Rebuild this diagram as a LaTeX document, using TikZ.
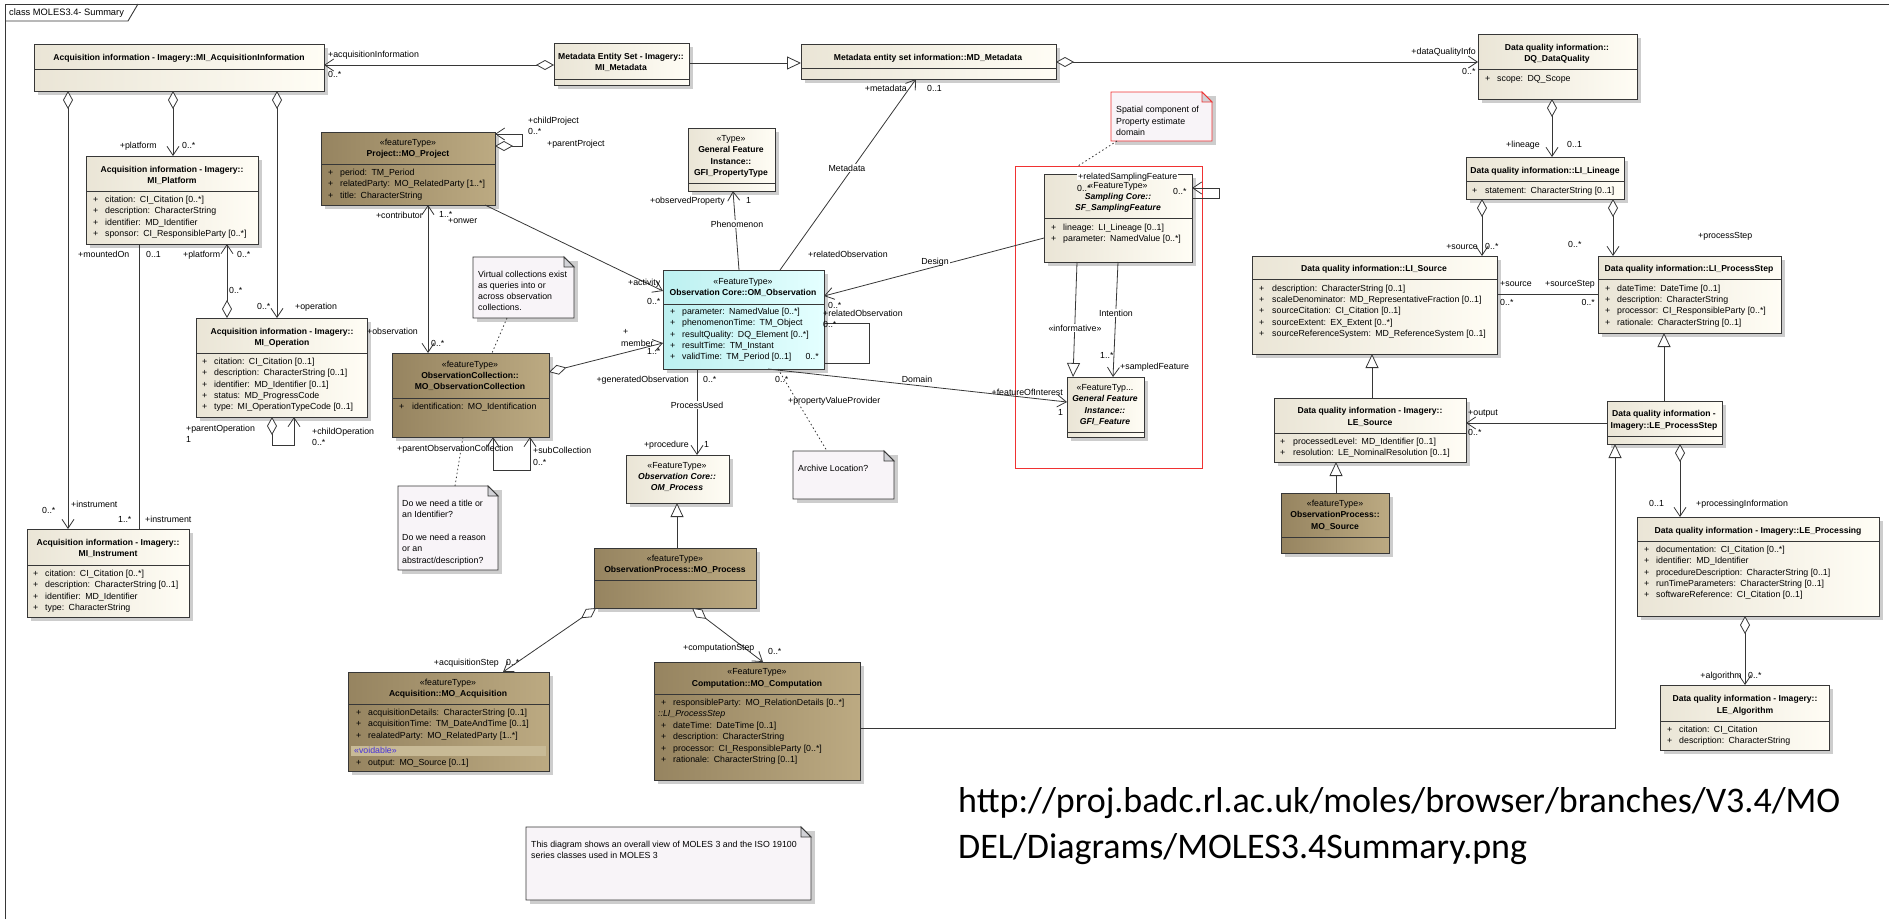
\documentclass[tikz,border=0pt]{standalone}
\usepackage{fontspec}
\setmainfont{Liberation Sans}
\newfontfamily\calib{Carlito}
\usetikzlibrary{arrows.meta,calc}
\definecolor{lnc}{RGB}{55,55,55}
\definecolor{crL}{RGB}{234,229,214}
\definecolor{crR}{RGB}{255,253,245}
\definecolor{brL}{RGB}{150,132,96}
\definecolor{brR}{RGB}{188,170,130}
\definecolor{cyL}{RGB}{188,240,240}
\definecolor{cyR}{RGB}{228,255,255}
\definecolor{notef}{RGB}{248,244,248}
\definecolor{foldc}{RGB}{210,210,215}
\definecolor{shd}{RGB}{205,205,205}
\definecolor{voidc}{RGB}{70,50,220}
\definecolor{voidband}{RGB}{200,186,150}
\definecolor{redc}{RGB}{240,50,50}
\tikzset{
 boxbase/.style={draw=lnc, line width=0.9pt, inner sep=0pt, outer sep=0pt, anchor=north west},
 boxcream/.style={boxbase, left color=crL, right color=crR},
 boxbrown/.style={boxbase, left color=brL, right color=brR},
 boxcyan/.style={boxbase, left color=cyL, right color=cyR},
 txt/.style={font=\fontsize{8.8}{10}\selectfont, inner sep=0pt, text height=6.4pt, text depth=0pt},
 ttl/.style={txt, font=\fontsize{8.6}{10}\selectfont\bfseries},
 itl/.style={txt, font=\fontsize{8.6}{10}\selectfont\bfseries\itshape},
 lbl/.style={txt, anchor=west},
 lble/.style={txt, anchor=east},
 midlbl/.style={txt, fill=white, inner sep=1pt},
 conn/.style={draw=lnc, line width=0.8pt},
 nav/.style={conn, -{Straight Barb[length=9pt,width=12pt]}},
 navb/.style={conn, {Straight Barb[length=9pt,width=12pt]}-{Straight Barb[length=9pt,width=12pt]}},
 gen/.style={conn, -{Triangle[open,length=14pt,width=13pt,fill=white]}},
 agg/.style={conn, {Diamond[open,length=18pt,width=10pt,fill=white]}-{Straight Barb[length=9pt,width=12pt]}},
 dots/.style={draw=lnc, line width=0.8pt, dash pattern=on 1.5pt off 2.5pt},
}
\newcommand\ubox[6]{%
  \fill[shd] ({#3+4},{#4+4}) rectangle ({#5+4},{#6+4});
  \node[#2, minimum width={#5-#3}, minimum height={#6-#4}] (#1) at (#3,#4) {};
}
\newcommand\udiv[2]{\draw[lnc, line width=0.8pt] (#1.west |- 0,#2) -- (#1.east |- 0,#2);}
\newcommand\uattr[5]{%
  \foreach \aitem [count=\ai from 0] in {#5} {
    \node[lbl] at (#1,{#3+\ai*#4}) {+};
    \node[lbl] at (#2,{#3+\ai*#4}) {\aitem};
  }}
\newcommand\unote[6]{%
  \fill[shd] ({#2+4},{#3+4}) rectangle ({#4+4},{#5+4});
  \node[inner sep=0pt, outer sep=0pt, minimum width={#4-#2}, minimum height={#5-#3}, anchor=north west] (#1) at (#2,#3) {};
  \filldraw[fill=notef, draw=#6, line width=0.9pt] (#1.north west) -- ($(#1.north east)+(-10,0)$) -- ($(#1.north east)+(0,10)$) -- (#1.south east) -- (#1.south west) -- cycle;
  \filldraw[fill=foldc, draw=#6, line width=0.9pt] ($(#1.north east)+(-10,0)$) -- ($(#1.north east)+(-10,10)$) -- ($(#1.north east)+(0,10)$) -- cycle;
}
\begin{document}
\begin{tikzpicture}[x=1pt,y=-1pt]
\useasboundingbox (0,0) rectangle (1889,919);
% frame
\draw[lnc, line width=0.9pt] (5,919) -- (5,4) -- (1889,4);
\draw[lnc, line width=0.9pt] (5,21) -- (128,21) -- (138,4);
\node[lbl, font=\fontsize{9.3}{10}\selectfont] (frametitle) at (9,12) {class MOLES3.4- Summary};

% ---------- classes ----------
\ubox{acq}{boxcream}{34}{44}{324}{91}
\udiv{acq}{69}
\node[ttl] at (179,57) {Acquisition information - Imagery::MI\_AcquisitionInformation};

\ubox{mimeta}{boxcream}{554}{43}{689}{85}
\udiv{mimeta}{79}
\node[ttl] at (621,56) {Metadata Entity Set - Imagery::};
\node[ttl] at (621,67) {MI\_Metadata};

\ubox{mdmeta}{boxcream}{801}{44}{1056}{79}
\udiv{mdmeta}{68}
\node[ttl] at (928,57) {Metadata entity set information::MD\_Metadata};

\ubox{dq}{boxcream}{1478}{34}{1637}{99}
\udiv{dq}{69}
\node[ttl] at (1557,47) {Data quality information::};
\node[ttl] at (1557,58) {DQ\_DataQuality};
\uattr{1485}{1497}{78}{11.3}{scope:\enspace DQ\_Scope}

\ubox{lin}{boxcream}{1466}{157}{1624}{199}
\udiv{lin}{181}
\node[ttl] at (1545,170) {Data quality information::LI\_Lineage};
\uattr{1472}{1485}{190}{11.3}{statement:\enspace CharacterString [0..1]}

\ubox{lisrc}{boxcream}{1252}{256}{1497}{354}
\udiv{lisrc}{279}
\node[ttl] at (1374,268) {Data quality information::LI\_Source};
\uattr{1259}{1272}{288}{11.3}{description:\enspace CharacterString [0..1], scaleDenominator:\enspace MD\_RepresentativeFraction [0..1], sourceCitation:\enspace CI\_Citation [0..1], sourceExtent:\enspace EX\_Extent [0..*], sourceReferenceSystem:\enspace MD\_ReferenceSystem [0..1]}

\ubox{lips}{boxcream}{1598}{256}{1781}{333}
\udiv{lips}{279}
\node[ttl] at (1689,268) {Data quality information::LI\_ProcessStep};
\uattr{1605}{1617}{288}{11.3}{dateTime:\enspace DateTime [0..1], description:\enspace CharacterString, processor:\enspace CI\_ResponsibleParty [0..*], rationale:\enspace CharacterString [0..1]}

\ubox{leps}{boxcream}{1607}{401}{1722}{444}
\udiv{leps}{436}
\node[ttl] at (1664,413) {Data quality information -};
\node[ttl] at (1664,425) {Imagery::LE\_ProcessStep};

\ubox{lesrc}{boxcream}{1274}{398}{1466}{462}
\udiv{lesrc}{433}
\node[ttl] at (1370,410) {Data quality information - Imagery::};
\node[ttl] at (1370,422) {LE\_Source};
\uattr{1280}{1293}{441}{11.3}{processedLevel:\enspace MD\_Identifier [0..1], resolution:\enspace LE\_NominalResolution [0..1]}

\ubox{mosrc}{boxbrown}{1281}{493}{1389}{553}
\udiv{mosrc}{537}
\node[txt] at (1335,503) {«featureType»};
\node[ttl] at (1335,514) {ObservationProcess::};
\node[ttl] at (1335,526) {MO\_Source};

\ubox{leproc}{boxcream}{1637}{517}{1879}{616}
\udiv{leproc}{541}
\node[ttl] at (1758,530) {Data quality information - Imagery::LE\_Processing};
\uattr{1644}{1656}{549}{11.4}{documentation:\enspace CI\_Citation [0..*], identifier:\enspace MD\_Identifier, procedureDescription:\enspace CharacterString [0..1], runTimeParameters:\enspace CharacterString [0..1], softwareReference:\enspace CI\_Citation [0..1]}

\ubox{lealg}{boxcream}{1660}{685}{1829}{750}
\udiv{lealg}{721}
\node[ttl] at (1745,698) {Data quality information - Imagery::};
\node[ttl] at (1745,710) {LE\_Algorithm};
\uattr{1667}{1679}{729}{11.4}{citation:\enspace CI\_Citation, description:\enspace CharacterString}

\ubox{plat}{boxcream}{86}{156}{258}{244}
\udiv{plat}{191}
\node[ttl] at (172,169) {Acquisition information - Imagery::};
\node[ttl] at (172,180) {MI\_Platform};
\uattr{93}{105}{199}{11.4}{citation:\enspace CI\_Citation [0..*], description:\enspace CharacterString, identifier:\enspace MD\_Identifier, sponsor:\enspace CI\_ResponsibleParty [0..*]}

\ubox{oper}{boxcream}{196}{318}{367}{417}
\udiv{oper}{353}
\node[ttl] at (282,331) {Acquisition information - Imagery::};
\node[ttl] at (282,342) {MI\_Operation};
\uattr{202}{214}{361}{11.4}{citation:\enspace CI\_Citation [0..1], description:\enspace CharacterString [0..1], identifier:\enspace MD\_Identifier [0..1], status:\enspace MD\_ProgressCode, type:\enspace MI\_OperationTypeCode [0..1]}

\ubox{inst}{boxcream}{27}{529}{189}{617}
\udiv{inst}{565}
\node[ttl] at (108,542) {Acquisition information - Imagery::};
\node[ttl] at (108,553) {MI\_Instrument};
\uattr{33}{45}{573}{11.4}{citation:\enspace CI\_Citation [0..*], description:\enspace CharacterString [0..1], identifier:\enspace MD\_Identifier, type:\enspace CharacterString}

\ubox{proj}{boxbrown}{321}{132}{495}{205}
\udiv{proj}{164}
\node[txt] at (408,142) {«featureType»};
\node[ttl] at (408,153) {Project::MO\_Project};
\uattr{328}{340}{172}{11.4}{period:\enspace TM\_Period, relatedParty:\enspace MO\_RelatedParty [1..*], title:\enspace CharacterString}

\ubox{obscol}{boxbrown}{392}{353}{549}{437}
\udiv{obscol}{398}
\node[txt] at (470,364) {«featureType»};
\node[ttl] at (470,375) {ObservationCollection::};
\node[ttl] at (470,386) {MO\_ObservationCollection};
\uattr{399}{412}{406}{11.3}{identification:\enspace MO\_Identification}

\ubox{obs}{boxcyan}{663}{270}{824}{369}
\udiv{obs}{304}
\node[txt] at (743,281) {«FeatureType»};
\node[ttl] at (743,292) {Observation Core::OM\_Observation};
\uattr{670}{682}{311}{11.4}{parameter:\enspace NamedValue [0..*], phenomenonTime:\enspace TM\_Object, resultQuality:\enspace DQ\_Element [0..*], resultTime:\enspace TM\_Instant, validTime:\enspace TM\_Period [0..1]}

\ubox{gfipt}{boxcream}{688}{128}{775}{191}
\udiv{gfipt}{183}
\node[txt] at (731,138) {«Type»};
\node[ttl] at (731,149) {General Feature};
\node[ttl] at (731,161) {Instance::};
\node[ttl] at (731,172) {GFI\_PropertyType};

\ubox{omproc}{boxcream}{626}{455}{729}{503}
\node[txt] at (677,465) {«FeatureType»};
\node[itl] at (677,476) {Observation Core::};
\node[itl] at (677,487) {OM\_Process};

\ubox{moproc}{boxbrown}{594}{548}{756}{608}
\udiv{moproc}{580}
\node[txt] at (675,558) {«featureType»};
\node[ttl] at (675,569) {ObservationProcess::MO\_Process};

\ubox{moacq}{boxbrown}{348}{672}{549}{771}
\udiv{moacq}{704}
\node[txt] at (448,682) {«featureType»};
\node[ttl] at (448,693) {Acquisition::MO\_Acquisition};
\uattr{356}{368}{712}{11.4}{acquisitionDetails:\enspace CharacterString [0..1], acquisitionTime:\enspace TM\_DateAndTime [0..1], realatedParty:\enspace MO\_RelatedParty [1..*]}
\fill[voidband] (351,746) rectangle (546,756);
\node[lbl, text=voidc] (voidable) at (354,750) {«voidable»};
\node[lbl] at (356,762) {+};
\node[lbl] at (368,762) {output:\enspace MO\_Source [0..1]};

\ubox{mocomp}{boxbrown}{654}{662}{860}{780}
\udiv{mocomp}{694}
\node[txt] at (757,671) {«FeatureType»};
\node[ttl] at (757,683) {Computation::MO\_Computation};
\node[lbl] at (661,702) {+};
\node[lbl] at (673,702) {responsibleParty:\enspace MO\_RelationDetails [0..*]};
\node[lbl, font=\fontsize{8.8}{10}\selectfont\itshape] at (658,713) {::LI\_ProcessStep};
\uattr{661}{673}{725}{11.4}{dateTime:\enspace DateTime [0..1], description:\enspace CharacterString, processor:\enspace CI\_ResponsibleParty [0..*], rationale:\enspace CharacterString [0..1]}

\node[draw=redc, line width=1pt, inner sep=0pt, outer sep=0pt, minimum width=187, minimum height=302, anchor=north west] (redr) at (1015,166) {};

\ubox{sf}{boxcream}{1044}{174}{1192}{262}
\udiv{sf}{218}
\node[txt] at (1118,185) {«FeatureType»};
\node[itl] at (1118,196) {Sampling Core::};
\node[itl] at (1118,207) {SF\_SamplingFeature};
\uattr{1051}{1063}{227}{11.4}{lineage:\enspace LI\_Lineage [0..1], parameter:\enspace NamedValue [0..*]}

\ubox{gfif}{boxcream}{1067}{377}{1144}{437}
\udiv{gfif}{432}
\node[txt] at (1105,387) {«FeatureTyp...};
\node[itl] at (1105,398) {General Feature};
\node[itl] at (1105,410) {Instance::};
\node[itl] at (1105,421) {GFI\_Feature};

% ---------- notes ----------
\unote{nvirt}{473}{257}{574}{318}{lnc}
\node[lbl] at (478,274) {Virtual collections exist};
\node[lbl] at (478,285) {as queries into or};
\node[lbl] at (478,296) {across observation};
\node[lbl] at (478,307) {collections.};

\unote{ntitle}{398}{486}{498}{570}{lnc}
\node[lbl] at (402,503) {Do we need a title or};
\node[lbl] at (402,514) {an Identifier?};
\node[lbl] at (402,537) {Do we need a reason};
\node[lbl] at (402,548) {or an};
\node[lbl] at (402,560) {abstract/description?};

\unote{narch}{793}{451}{894}{499}{lnc}
\node[lbl] at (798,468) {Archive Location?};

\unote{nspat}{1111}{92}{1212}{141}{redc}
\node[lbl] at (1116,109) {Spatial component of};
\node[lbl] at (1116,121) {Property estimate};
\node[lbl] at (1116,132) {domain};

\unote{ndiag}{526}{827}{811}{900}{lnc}
\node[lbl] at (531,844) {This diagram shows an overall view of MOLES 3 and the ISO 19100};
\node[lbl] at (531,855) {series classes used in MOLES 3};

% ---------- connectors ----------
% acquisition information
\draw[agg] (acq.south -| 68,0) -- (inst.north -| 68,0);
\node[lbl] at (42,510) {0..*};
\node[lbl] at (71,504) {+instrument};
\draw[agg] (acq.south -| 173,0) -- (plat.north -| 173,0);
\node[lble] at (157,145) {+platform};
\node[lbl] at (182,145) {0..*};
\draw[agg] (acq.south -| 277,0) -- (oper.north -| 277,0);
\node[lbl] at (257,306) {0..*};
\node[lbl] at (295,306) {+operation};
\draw[conn] (plat.south -| 139,0) -- (inst.north -| 139,0);
\node[lbl] at (78,254) {+mountedOn};
\node[lbl] at (146,254) {0..1};
\node[lbl] at (118,519) {1..*};
\node[lbl] at (145,519) {+instrument};
\draw[agg] (oper.north -| 227,0) -- (plat.south -| 227,0);
\node[lbl] at (183,254) {+platform};
\node[lbl] at (237,254) {0..*};
\node[lbl] at (229,290) {0..*};
\draw[agg] (oper.south -| 272,0) -- (272,445) -- (294,445) -- (oper.south -| 294,0);
\node[lbl] at (186,428) {+parentOperation};
\node[lbl] at (186,439) {1};
\node[lbl] at (312,431) {+childOperation};
\node[lbl] at (312,442) {0..*};
\draw[agg] (mimeta.west |- 0,65) -- (acq.east |- 0,65);
\node[lbl] at (328,54) {+acquisitionInformation};
\node[lbl] at (328,74) {0..*};
\draw[gen] (mimeta.east |- 0,63) -- (mdmeta.west |- 0,63);
\draw[agg] (mdmeta.east |- 0,62) -- (dq.west |- 0,62);
\node[lble] at (1476,51) {+dataQualityInfo};
\node[lbl] at (1462,71) {0..*};
% data quality
\draw[agg] (dq.south -| 1552,0) -- (lin.north -| 1552,0);
\node[lbl] at (1506,144) {+lineage};
\node[lbl] at (1567,144) {0..1};
\draw[agg] (lin.south -| 1482,0) -- (lisrc.north -| 1482,0);
\node[lble] at (1478,246) {+source};
\node[lbl] at (1485,246) {0..*};
\draw[agg] (lin.south -| 1613,0) -- (lips.north -| 1613,0);
\node[lbl] at (1568,244) {0..*};
\node[lbl] at (1698,235) {+processStep};
\draw[conn] (lisrc.east |- 0,294) -- (lips.west |- 0,294);
\node[lbl] at (1500,283) {+source};
\node[lble] at (1595,283) {+sourceStep};
\node[lbl] at (1500,302) {0..*};
\node[lble] at (1595,302) {0..*};
\draw[gen] (leps.north -| 1664,0) -- (lips.south -| 1664,0);
\draw[nav] (leps.west |- 0,423) -- (lesrc.east |- 0,423);
\node[lbl] at (1468,412) {+output};
\node[lbl] at (1468,432) {0..*};
\draw[agg] (leps.south -| 1680,0) -- (leproc.north -| 1680,0);
\node[lbl] at (1649,503) {0..1};
\node[lbl] at (1696,503) {+processingInformation};
\draw[agg] (leproc.south -| 1745,0) -- (lealg.north -| 1745,0);
\node[lble] at (1742,675) {+algorithm};
\node[lbl] at (1748,675) {0..*};
\draw[gen] (lesrc.north -| 1372,0) -- (lisrc.south -| 1372,0);
\draw[gen] (mosrc.north -| 1336,0) -- (lesrc.south -| 1336,0);
\draw[gen] (mocomp.east |- 0,728) -- (1615,728) -- (leps.south -| 1615,0);
% project
\draw[agg] (proj.east |- 0,146) -- (522,146) -- (522,134) -- (proj.east |- 0,134);
\node[lbl] at (528,120) {+childProject};
\node[lbl] at (528,131) {0..*};
\node[lbl] at (547,143) {+parentProject};
\draw[navb] (proj.south -| 428,0) -- (obscol.north -| 428,0);
\node[lble] at (423,215) {+contributor};
\node[lbl] at (439,214) {1..*};
\node[lbl] at (448,220) {+onwer};
\node[lbl] at (367,331) {+observation};
\node[lbl] at (431,343) {0..*};
\draw[nav] (proj.south -| 485,0) -- (obs.west |- 0,291);
\node[lbl] at (628,282) {+activity};
\node[lbl] at (647,301) {0..*};
% observation collection
\draw[agg] (obscol.east |- 0,372) -- (obs.west |- 0,343);
\node[lbl] at (623,331) {+};
\node[lbl] at (621,343) {member};
\node[lbl] at (647,351) {1..*};
\draw[navb] (obscol.south -| 493,0) -- (493,470) -- (530,470) -- (obscol.south -| 530,0);
\node[lbl] at (397,448) {+parentObservationCollection};
\node[lbl] at (533,450) {+subCollection};
\node[lbl] at (533,462) {0..*};
\draw[dots] (nvirt.south -| 507,0) -- (obscol.north -| 492,0);
\draw[dots] (ntitle.north -| 455,0) -- (obscol.south -| 463,0);
% observation
\draw[conn] (obs.east |- 0,323) -- (869,323) -- (869,363) -- (obs.east |- 0,363);
\node[lbl] at (823,313) {+relatedObservation};
\node[lbl] at (823,324) {0..*};
\node[lble] at (819,356) {0..*};
\draw[nav] (sf.west |- 0,238) -- (obs.east |- 0,296);
\node[midlbl] at (935,261) {Design};
\node[lbl] at (808,254) {+relatedObservation};
\node[lbl] at (828,305) {0..*};
\draw[nav] (obs.north -| 739,0) -- (gfipt.south -| 733,0);
\node[lble] at (725,200) {+observedProperty};
\node[lbl] at (746,200) {1};
\node[midlbl] at (737,224) {Phenomenon};
\draw[nav] (obs.north -| 780,0) -- (mdmeta.south -| 916,0);
\node[lble] at (907,88) {+metadata};
\node[lbl] at (927,88) {0..1};
\node[midlbl] at (847,168) {Metadata};
\draw[nav] (obs.south -| 697,0) -- (omproc.north -| 697,0);
\node[lble] at (689,379) {+generatedObservation};
\node[lbl] at (703,379) {0..*};
\node[midlbl] at (697,405) {ProcessUsed};
\node[lble] at (689,444) {+procedure};
\node[lbl] at (704,444) {1};
\draw[dots] (obs.south -| 778,0) -- (narch.north -| 827,0);
\node[lbl] at (775,379) {0..*};
\node[lbl] at (788,400) {+propertyValueProvider};
\draw[nav] (obs.south -| 768,0) -- (gfif.west |- 0,402);
\node[midlbl] at (917,379) {Domain};
\node[lble] at (1063,392) {+featureOfInterest};
\node[lbl] at (1058,412) {1};
% process
\draw[gen] (moproc.north -| 677,0) -- (omproc.south -| 677,0);
\draw[agg] (moproc.south -| 596,0) -- (moacq.north -| 503,0);
\node[lble] at (499,662) {+acquisitionStep};
\node[lbl] at (506,662) {0..*};
\draw[agg] (moproc.south -| 692,0) -- (mocomp.north -| 763,0);
\node[lbl] at (683,647) {+computationStep};
\node[lbl] at (768,651) {0..*};
% sampling feature
\draw[gen] (sf.south -| 1077,0) -- (gfif.north -| 1073,0);
\node[midlbl] at (1075,328) {«informative»};
\draw[nav] (sf.south -| 1118,0) -- (gfif.north -| 1113,0);
\node[midlbl] at (1116,313) {Intention};
\node[lbl] at (1100,355) {1..*};
\node[lbl] at (1120,366) {+sampledFeature};
\draw[nav] (sf.east |- 0,198) -- (1219,198) -- (1219,188) -- (sf.east |- 0,188);
\node[midlbl, anchor=west] at (1077,176) {+relatedSamplingFeature};
\node[lbl] at (1077,188) {0..*};
\node[lbl] at (1173,191) {0..*};
\draw[dots] (nspat.south -| 1117,0) -- (redr.north -| 1078,0);

% ---------- URL ----------
\node[anchor=base west, inner sep=0pt, font=\calib\fontsize{36}{40}\selectfont] (url1) at (958,812) {http://proj.badc.rl.ac.uk/moles/browser/branches/V3.4/MO};
\node[anchor=base west, inner sep=0pt, font=\calib\fontsize{36}{40}\selectfont] (url2) at (958,858) {DEL/Diagrams/MOLES3.4Summary.png};
\end{tikzpicture}
\end{document}
